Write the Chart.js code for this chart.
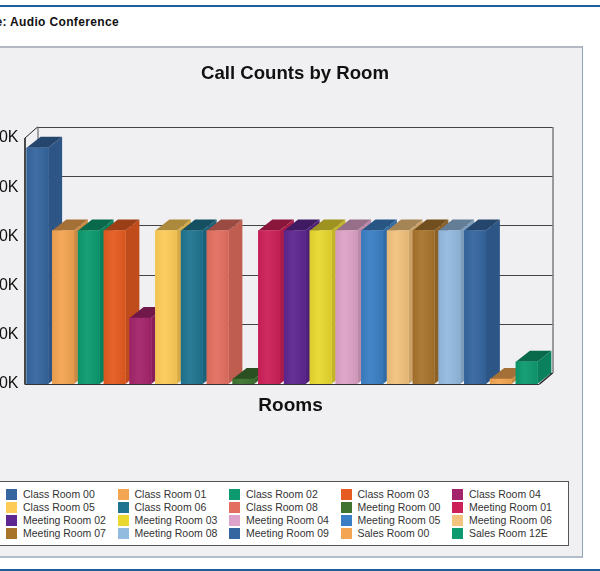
<!DOCTYPE html>
<html>
<head>
<meta charset="utf-8">
<style>
    html, body { margin: 0; padding: 0; width: 600px; height: 571px; overflow: hidden; background: #fff; }
    body { position: relative; font-family: "Liberation Sans", Arial, sans-serif; }
    #topLine, #bottomLine { position: absolute; left: 0; width: 600px; height: 2px; background: #1f5f99; }
    #topLine { top: 5px; }
    #bottomLine { top: 569px; }
    #heading { position: absolute; right: 481px; top: 15px; font-size: 12px; font-weight: bold; color: #111; white-space: nowrap; letter-spacing: 0.35px; }
    #panel { position: absolute; left: -10px; top: 46px; width: 592px; height: 508px; background: #f0f0f2; border-top: 2px solid #b5b7c3; border-right: 1px solid #8ea3bc; border-bottom: 2px solid #b3bccb; }
    #chart { position: absolute; left: -45px; top: 0; }
    #legend { position: absolute; left: -10px; top: 481px; width: 577px; height: 63px; background: #fff; border: 1px solid #555; }
    .item { position: absolute; font-size: 10.5px; line-height: 13px; color: #333; white-space: nowrap; }
    .item i { position: absolute; left: -17px; top: 1px; width: 11px; height: 11px; }
</style>
</head>
<body>
<div id="topLine"></div>
<div id="heading">Type: Audio Conference</div>
<div id="panel"></div>
<canvas id="chart" width="680" height="571"></canvas>
<div id="legend"></div>
<div id="bottomLine"></div>
<script src="https://cdn.jsdelivr.net/npm/chart.js@4"></script>
<script>
const rooms = [
    'Class Room 00', 'Class Room 01', 'Class Room 02', 'Class Room 03', 'Class Room 04',
    'Class Room 05', 'Class Room 06', 'Class Room 08', 'Meeting Room 00', 'Meeting Room 01',
    'Meeting Room 02', 'Meeting Room 03', 'Meeting Room 04', 'Meeting Room 05', 'Meeting Room 06',
    'Meeting Room 07', 'Meeting Room 08', 'Meeting Room 09', 'Sales Room 00', 'Sales Room 12E',
];
const callCounts = [
    48000, 31200, 31200, 31200, 13400,
    31200, 31200, 31200, 1000, 31200,
    31200, 31200, 31200, 31200, 31200,
    31200, 31200, 31200, 1000, 4500,
];
const colors = [
    '#35669f', '#f3a551', '#0c9a6e', '#e55b20', '#a4246b',
    '#fdcb58', '#1f7490', '#e36f60', '#3e7430', '#cc2058',
    '#5e2690', '#e8d82f', '#dea3c8', '#3a7fc4', '#f2c27e',
    '#a8742c', '#93badf', '#35669f', '#f3a551', '#0c9a6e',
];
const yTicks = [0, 10000, 20000, 30000, 40000, 50000];

// how far the 3d boxes go back
const depthX = 14;
const depthY = 11;

const shade = (hex, f) => {
    const n = parseInt(hex.slice(1), 16);
    const r = Math.round((n >> 16) * f);
    const g = Math.round(((n >> 8) & 255) * f);
    const b = Math.round((n & 255) * f);
    return `rgb(${r},${g},${b})`;
};

const poly = (ctx, pts, fill) => {
    ctx.beginPath();
    pts.forEach((p, i) => (i ? ctx.lineTo(p[0], p[1]) : ctx.moveTo(p[0], p[1])));
    ctx.closePath();
    ctx.fillStyle = fill;
    ctx.fill();
};

const line = (ctx, x1, y1, x2, y2, color, width) => {
    ctx.beginPath();
    ctx.moveTo(x1, y1);
    ctx.lineTo(x2, y2);
    ctx.strokeStyle = color;
    ctx.lineWidth = width;
    ctx.stroke();
};

const box3d = {
    id: 'box3d',
    beforeDatasetsDraw(chart) {
        const { ctx, chartArea: a, scales: { y } } = chart;
        const dx = depthX - 1;
        const top = y.getPixelForValue(yTicks[yTicks.length - 1]);
        const base = y.getPixelForValue(0);
        ctx.save();

        // back wall and its grid
        yTicks.forEach((t) => {
            const py = Math.round(y.getPixelForValue(t) - depthY) + 0.5;
            line(ctx, a.left + dx, py, a.right + dx, py, '#444', 1);
        });
        line(ctx, a.left + dx + 0.5, top - depthY, a.left + dx + 0.5, base - depthY, '#555', 1);
        line(ctx, a.right + dx + 0.5, top - depthY, a.right + dx + 0.5, base - depthY, '#444', 1);

        // floor edge and left wall
        line(ctx, a.left + 0.5, top, a.left + dx, top - depthY, '#222', 1);
        line(ctx, a.right, base, a.right + dx, base - depthY, '#222', 1.5);
        line(ctx, a.left + 0.5, top, a.left + 0.5, base, '#111', 1.5);
        line(ctx, a.left, base + 0.5, a.right, base + 0.5, '#333', 1);

        // left to right so each top laps the side of the bar before it
        chart.getDatasetMeta(0).data.forEach((bar, i) => {
            const x1 = bar.x - bar.width / 2;
            const x2 = bar.x + bar.width / 2;
            poly(ctx, [[x2, bar.y], [x2 + depthX, bar.y - depthY], [x2 + depthX, bar.base - depthY], [x2, bar.base]], shade(colors[i], 0.84));
            poly(ctx, [[x1, bar.y], [x1 + depthX, bar.y - depthY], [x2 + depthX, bar.y - depthY], [x2, bar.y]], shade(colors[i], 0.68));
        });
        ctx.restore();
    },
    afterDatasetsDraw(chart) {
        // soft sheen across each front face
        const { ctx } = chart;
        ctx.save();
        chart.getDatasetMeta(0).data.forEach((bar) => {
            const x1 = bar.x - bar.width / 2;
            const g = ctx.createLinearGradient(x1, 0, x1 + bar.width, 0);
            g.addColorStop(0, 'rgba(0,0,0,0.05)');
            g.addColorStop(0.4, 'rgba(255,255,255,0.05)');
            g.addColorStop(1, 'rgba(0,0,0,0.07)');
            ctx.fillStyle = g;
            ctx.fillRect(x1, bar.y, bar.width, bar.base - bar.y);
        });
        ctx.restore();
    },
    afterDraw(chart) {
        const { ctx, chartArea: a } = chart;
        ctx.save();
        ctx.font = 'bold 19px "Liberation Sans", Arial, sans-serif';
        ctx.fillStyle = '#111';
        ctx.textAlign = 'center';
        ctx.textBaseline = 'middle';
        ctx.fillText('Rooms', (a.left + a.right) / 2 + 8.5, 406);
        ctx.restore();
    },
};

const chart = new Chart(document.getElementById('chart').getContext('2d'), {
    type: 'bar',
    data: {
        labels: rooms,
        datasets: [{
            label: 'Call Counts',
            data: callCounts,
            backgroundColor: colors,
            borderWidth: 0,
            barThickness: 21.5,
        }],
    },
    options: {
        responsive: false,
        animation: false,
        layout: { padding: { left: 0, right: 0, top: 0, bottom: 179 } },
        plugins: {
            legend: { display: false },
            tooltip: { enabled: false },
            title: {
                display: true,
                text: 'Call Counts by Room',
                color: '#111',
                font: { family: '"Liberation Sans", Arial, sans-serif', size: 18.6, weight: 'bold' },
                padding: { top: 63, bottom: 52.7 },
            },
        },
        scales: {
            x: {
                grid: { display: false },
                border: { display: false },
                ticks: { display: false },
            },
            y: {
                min: 0,
                max: 50000,
                afterFit(scale) {
                    scale.width = 69.5;
                },
                afterBuildTicks(scale) {
                    scale.ticks = yTicks.map((value) => ({ value }));
                },
                grid: { display: false, tickLength: 0 },
                border: { display: false },
                ticks: {
                    color: '#111',
                    padding: 6,
                    font: { family: '"Liberation Sans", Arial, sans-serif', size: 16 },
                    callback: (v) => `${v / 1000}K`,
                },
            },
            // empty axis that holds the right margin, the title stays centred on the whole canvas
            spacer: {
                type: 'linear',
                position: 'right',
                afterFit(scale) {
                    scale.width = 95.5;
                },
                grid: { display: false, tickLength: 0 },
                border: { display: false },
                ticks: { display: false },
            },
        },
    },
    plugins: [box3d],
});

// legend runs in five columns, so build it by hand
const legendDiv = document.getElementById('legend');
const rowTops = [6, 19, 32, 45];
rooms.forEach((room, i) => {
    const item = document.createElement('div');
    item.className = 'item';
    item.style.left = `${32 + (i % 5) * 111.5}px`;
    item.style.top = `${rowTops[Math.floor(i / 5)]}px`;
    item.innerText = room;
    const swatch = document.createElement('i');
    swatch.style.background = colors[i];
    item.appendChild(swatch);
    legendDiv.appendChild(item);
});
</script>
</body>
</html>
